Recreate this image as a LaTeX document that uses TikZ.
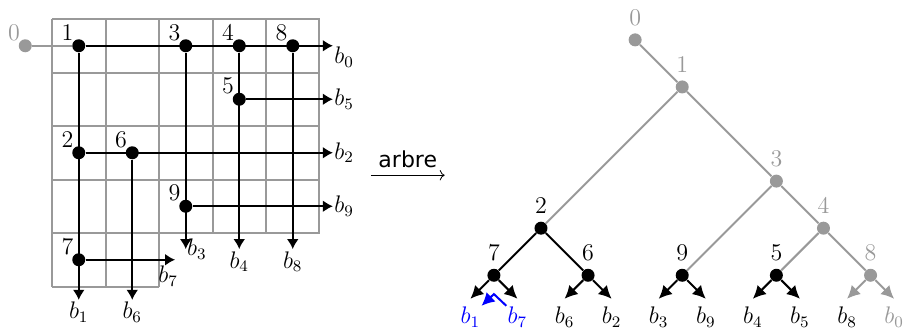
\documentclass[12pt,tikz,border=0pt]{standalone}
\usepackage{amsmath}
\usepackage{xcolor}
\usepackage{fontspec}
\usepackage{tikz}
\usetikzlibrary{arrows.meta}

\newfontfamily\arbrefont{DejaVu Sans}
\colorlet{pale}{black!40}

\begin{document}
\begin{tikzpicture}[x=0.94cm, y=0.94cm, label distance=0pt,
    dot/.style={circle, fill=black, inner sep=0pt, minimum size=6.5pt},
    gdot/.style={dot, fill=pale},
    arr/.style={-{Latex[length=5pt,width=6pt]}, line width=1pt},
    tarr/.style={-{Latex[length=6.5pt,width=6.5pt]}, line width=1pt},
    lab/.style={inner sep=0pt},
    tlab/.style={inner sep=3pt, yshift=0.5pt},
    leaf/.style={anchor=north, inner sep=4pt}]
    \useasboundingbox (-0.972,0.355) rectangle (15.944,-5.907);

    % Grid
    \draw[pale, line width=1pt, step=0.94cm] (0,0) grid (5,-4);
    \draw[pale, line width=1pt, step=0.94cm] (0,-4) grid (2,-5);

    % Points on the grid
    \node[gdot, label={[lab, pale]above left:$0$}] (p0) at (-0.5,-0.5) {};
    \node[dot, label={[lab]above left:$1$}] (p1) at (0.5,-0.5) {};
    \node[dot, label={[lab]above left:$3$}] (p3) at (2.5,-0.5) {};
    \node[dot, label={[lab]above left:$4$}] (p4) at (3.5,-0.5) {};
    \node[dot, label={[lab]above left:$8$}] (p8) at (4.5,-0.5) {};
    \node[dot, label={[lab]above left:$5$}] (p5) at (3.5,-1.5) {};
    \node[dot, label={[lab]above left:$2$}] (p2) at (0.5,-2.5) {};
    \node[dot, label={[lab]above left:$6$}] (p6) at (1.5,-2.5) {};
    \node[dot, label={[lab]above left:$9$}] (p9) at (2.5,-3.5) {};
    \node[dot, label={[lab]above left:$7$}] (p7) at (0.5,-4.5) {};

    % Ends of the rays
    \coordinate (e0) at (5.25,-0.5);
    \coordinate (e5) at (5.25,-1.5);
    \coordinate (e2) at (5.25,-2.5);
    \coordinate (e9) at (5.25,-3.5);
    \coordinate (e7) at (2.3,-4.5);
    \coordinate (e1) at (0.5,-5.25);
    \coordinate (e6) at (1.5,-5.25);
    \coordinate (e3) at (2.5,-4.3);
    \coordinate (e4) at (3.5,-4.3);
    \coordinate (e8) at (4.5,-4.3);

    % Rays
    \draw[pale, line width=1pt] (p0) -- (p1);
    \draw[arr] (p1) -- (e0);
    \draw[arr] (p1) -- (e1);
    \draw[arr] (p3) -- (e3);
    \draw[arr] (p4) -- (e4);
    \draw[arr] (p8) -- (e8);
    \draw[arr] (p5) -- (e5);
    \draw[arr] (p2) -- (e2);
    \draw[arr] (p6) -- (e6);
    \draw[arr] (p9) -- (e9);
    \draw[arr] (p7) -- (e7);

    % Ray labels
    \node[anchor=north west, inner sep=0.5pt] (g0) at (e0) {$b_0$};
    \node[anchor=west, inner sep=0.5pt] (g5) at (e5) {$b_5$};
    \node[anchor=west, inner sep=0.5pt] (g2) at (e2) {$b_2$};
    \node[anchor=west, inner sep=0.5pt] (g9) at (e9) {$b_9$};
    \node[anchor=west, inner sep=0.5pt] (g3) at (e3) {$b_3$};
    \node[anchor=north, inner sep=1pt] (g4) at (e4) {$b_4$};
    \node[anchor=north, inner sep=1pt] (g8) at (e8) {$b_8$};
    \node[anchor=north, inner sep=1pt] (g1) at (e1) {$b_1$};
    \node[anchor=north, inner sep=1pt] (g6) at (e6) {$b_6$};
    \node[anchor=north, inner sep=1pt, xshift=-3.5pt, yshift=-2pt] (g7) at (e7) {$b_7$};

    % Arrow between the two pictures
    \coordinate (fa) at (5.96,-2.92);
    \coordinate (fb) at (7.34,-2.92);
    \draw[->] (fa) -- node[above, inner sep=3.5pt, font=\arbrefont\fontsize{11}{13}\selectfont] (arbre) {arbre} (fb);

    % Tree
    \begin{scope}[shift={(11.78,-1.27)}, scale=0.88]
        \node[gdot, label={[tlab, pale]above:$0$}] (t0) at (-1,1) {};
        \node[gdot, label={[tlab, pale]above:$1$}] (t1) at (0,0) {};
        \node[gdot, label={[tlab, pale]above:$3$}] (t3) at (2,-2) {};
        \node[gdot, label={[tlab, pale]above:$4$}] (t4) at (3,-3) {};
        \node[gdot, label={[tlab, pale]above:$8$}] (t8) at (4,-4) {};
        \node[dot, label={[tlab]above:$2$}] (t2) at (-3,-3) {};
        \node[dot, label={[tlab]above:$7$}] (t7) at (-4,-4) {};
        \node[dot, label={[tlab]above:$6$}] (t6) at (-2,-4) {};
        \node[dot, label={[tlab]above:$9$}] (t9) at (0,-4) {};
        \node[dot, label={[tlab]above:$5$}] (t5) at (2,-4) {};

        % Leaves
        \node[leaf, text=blue] (l1) at (-4.5,-4.5) {$b_1$};
        \node[leaf, text=blue] (l7) at (-3.5,-4.5) {$b_7$};
        \node[leaf] (l6) at (-2.5,-4.5) {$b_6$};
        \node[leaf] (l2) at (-1.5,-4.5) {$b_2$};
        \node[leaf] (l3) at (-0.5,-4.5) {$b_3$};
        \node[leaf] (l9) at (0.5,-4.5) {$b_9$};
        \node[leaf] (l4) at (1.5,-4.5) {$b_4$};
        \node[leaf] (l5) at (2.5,-4.5) {$b_5$};
        \node[leaf] (l8) at (3.5,-4.5) {$b_8$};
        \node[leaf, text=pale] (l0) at (4.5,-4.5) {$b_0$};
        \coordinate (swap) at (-4,-4.4);

        % Edges
        \draw[pale, line width=1pt] (t0) -- (t1);
        \draw[pale, line width=1pt] (t1) -- (t2);
        \draw[pale, line width=1pt] (t1) -- (t3);
        \draw[pale, line width=1pt] (t3) -- (t9);
        \draw[pale, line width=1pt] (t3) -- (t4);
        \draw[pale, line width=1pt] (t4) -- (t5);
        \draw[pale, line width=1pt] (t4) -- (t8);
        \draw[line width=1pt] (t2) -- (t7);
        \draw[line width=1pt] (t2) -- (t6);
        \draw[tarr] (t7) -- (l1.north);
        \draw[tarr] (t7) -- (l7.north);
        \draw[tarr] (t6) -- (l6.north);
        \draw[tarr] (t6) -- (l2.north);
        \draw[tarr] (t9) -- (l3.north);
        \draw[tarr] (t9) -- (l9.north);
        \draw[tarr] (t5) -- (l4.north);
        \draw[tarr] (t5) -- (l5.north);
        \draw[tarr, pale] (t8) -- (l8.north);
        \draw[tarr, pale] (t8) -- (l0.north);

        % Swap of the two leaves
        \draw[tarr, blue] ([xshift=4pt,yshift=-4pt]l7.north west) -- (swap) -- ([xshift=-4pt,yshift=-4pt]l1.north east);
    \end{scope}
\end{tikzpicture}
\end{document}
